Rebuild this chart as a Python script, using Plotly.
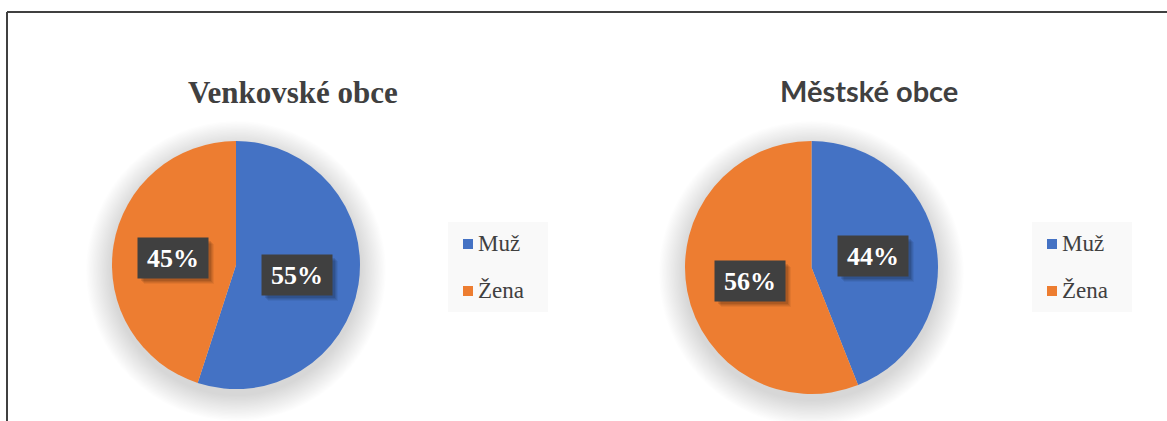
import plotly.graph_objects as go

W, H = 1167, 421

categories = ["Muž", "Žena"]
titles = ["Venkovské obce", "Městské obce"]
venkov_values = [55, 45]
mesto_values = [44, 56]
colors = ["#4472C4", "#ED7D31"]

def px(x):
    return x / W

def py(y):
    return 1 - y / H

fig = go.Figure()

# pie geometry (pixels): center x, center y, radius
pies = [
    dict(cx=236, cy=265, r=124, values=venkov_values, name=titles[0]),
    dict(cx=811.5, cy=267.5, r=126.5, values=mesto_values, name=titles[1]),
]

shapes = []
# soft shadow behind pies
for p in pies:
    n = 20
    for k in range(n, 0, -1):
        rr = p["r"] + k * 1.3
        off = 6
        shapes.append(dict(type="circle", xref="paper", yref="paper", layer="below",
                           x0=px(p["cx"] - rr), x1=px(p["cx"] + rr),
                           y0=py(p["cy"] + off + rr), y1=py(p["cy"] + off - rr),
                           fillcolor="rgba(0,0,0,0.0065)", line=dict(width=0)))

for p in pies:
    fig.add_trace(go.Pie(
        labels=categories, values=p["values"], name=p["name"],
        marker=dict(colors=colors, line=dict(width=0)),
        sort=False, direction="clockwise", rotation=0,
        textinfo="none", hoverinfo="label+percent",
        domain=dict(x=[px(p["cx"] - p["r"]), px(p["cx"] + p["r"])],
                    y=[py(p["cy"] + p["r"]), py(p["cy"] - p["r"])]),
        showlegend=False,
    ))

annotations = []
# titles
annotations.append(dict(text="<b>" + titles[0] + "</b>", x=px(293), y=py(92), xref="paper", yref="paper",
                        xanchor="center", yanchor="middle", showarrow=False,
                        font=dict(family="Liberation Serif, serif", size=31, color="#404040")))
annotations.append(dict(text="<b>" + titles[1] + "</b>", x=px(869), y=py(90), xref="paper", yref="paper",
                        xanchor="center", yanchor="middle", showarrow=False,
                        font=dict(family="Lato", size=29, color="#404040")))

# data labels (box centers in pixels)
label_pos = [
    [(297, 275), (173, 258)],
    [(873, 256), (750, 281)],
]
for p, poss in zip(pies, label_pos):
    total = sum(p["values"])
    for v, (lx, ly) in zip(p["values"], poss):
        bw, bh = 70, 40
        for s, a in [(6, 0.05), (5, 0.07), (4, 0.08), (3, 0.1)]:
            shapes.append(dict(type="rect", xref="paper", yref="paper",
                               x0=px(lx - bw / 2 + s), x1=px(lx + bw / 2 + s),
                               y0=py(ly + bh / 2 + s), y1=py(ly - bh / 2 + s),
                               fillcolor="rgba(0,0,0,%.2f)" % a, line=dict(width=0)))
        annotations.append(dict(text="<b>%d%%</b>" % round(100 * v / total),
                                x=px(lx), y=py(ly), xref="paper", yref="paper",
                                xanchor="center", yanchor="middle",
                                showarrow=False, width=bw, height=bh, borderpad=0,
                                bgcolor="#404040",
                                font=dict(family="Liberation Serif, serif", size=26, color="white")))

# legends
legend_x = [448, 1032]
for lx in legend_x:
    shapes.append(dict(type="rect", xref="paper", yref="paper", layer="below",
                       x0=px(lx), x1=px(lx + 100), y0=py(312), y1=py(222),
                       fillcolor="#F9F9F9", line=dict(width=0)))
    for i, (cat, col) in enumerate(zip(categories, colors)):
        yc = 244 + i * 47
        shapes.append(dict(type="rect", xref="paper", yref="paper",
                           x0=px(lx + 15), x1=px(lx + 25), y0=py(yc + 5), y1=py(yc - 5),
                           fillcolor=col, line=dict(width=0)))
        annotations.append(dict(text=cat, x=px(lx + 28), y=py(yc - 1), xref="paper", yref="paper",
                                xanchor="left", yanchor="middle", showarrow=False,
                                font=dict(family="Liberation Serif, serif", size=23, color="#404040")))

# frame lines
shapes.append(dict(type="line", xref="paper", yref="paper", x0=px(7), x1=1, y0=py(12), y1=py(12),
                   line=dict(color="#404040", width=2)))
shapes.append(dict(type="line", xref="paper", yref="paper", x0=px(7), x1=px(7), y0=py(12), y1=0,
                   line=dict(color="#404040", width=2)))

fig.update_layout(width=W, height=H, margin=dict(l=0, r=0, t=0, b=0),
                  paper_bgcolor="white", plot_bgcolor="white",
                  shapes=shapes, annotations=annotations, showlegend=False)

fig.write_html("out.html", config={"displayModeBar": False},
               post_script="document.body.style.margin='0';document.body.style.overflow='hidden';")
